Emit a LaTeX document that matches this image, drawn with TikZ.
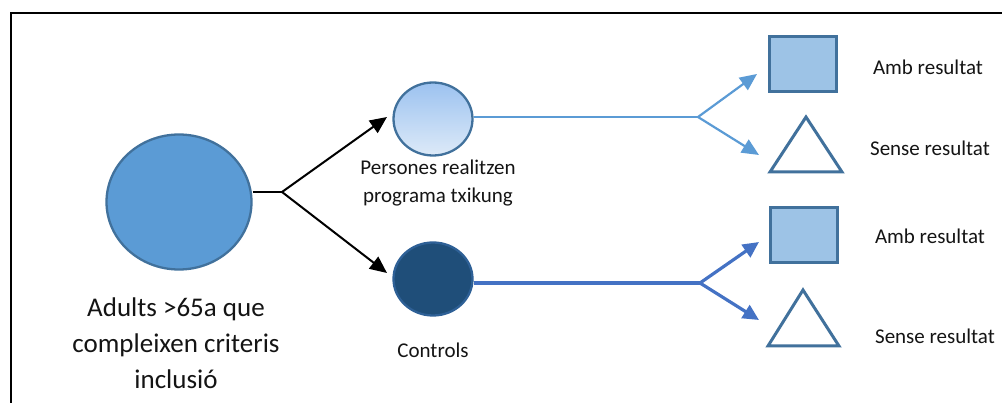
\documentclass[tikz,border=0pt]{standalone}
\usepackage{fontspec}
\setmainfont{Carlito}
\usetikzlibrary{arrows.meta,shapes.geometric}
\definecolor{midblue}{HTML}{5B9BD5}
\definecolor{edgeblue}{HTML}{41719C}
\definecolor{darkblue}{HTML}{1F4E79}
\definecolor{darkedge}{HTML}{2E6096}
\definecolor{paleblue}{HTML}{9DC3E6}
\definecolor{royal}{HTML}{4472C4}
\definecolor{gradtop}{HTML}{9CC2F0}
\definecolor{gradbot}{HTML}{DDEAF8}
\definecolor{txt}{HTML}{141414}
\begin{document}
\begin{tikzpicture}[x=1pt,y=-1pt,
  bubble/.style={ellipse, draw=edgeblue, line width=2.3pt, inner sep=0pt},
  outcome/.style={rectangle, draw=edgeblue, fill=paleblue, line width=3pt,
    inner sep=0pt, minimum width=67pt, minimum height=55pt},
  tri/.style={draw=edgeblue, fill=white, line width=3pt, line join=miter},
  split/.style={-{Triangle[length=17pt,width=15pt]}, line width=2pt, black},
  lightlink/.style={midblue, line width=2.2pt},
  lightsplit/.style={lightlink, -{Triangle[length=17pt,width=15pt]}},
  darklink/.style={royal, line width=3.2pt},
  darksplit/.style={darklink, -{Triangle[length=16pt,width=15pt]}},
  small/.style={text=txt, font=\fontsize{21}{28}\selectfont, align=center, inner sep=0pt},
  big/.style={text=txt, font=\fontsize{27}{36}\selectfont, align=center, inner sep=0pt}]
\useasboundingbox (0,0) rectangle (1002,403);
\clip (0,0) rectangle (1002,403);

% outer frame (open at right and bottom)
\draw[line width=2.2pt] (11,420) -- (11,13) -- (1020,13);

% population and the two groups
\node[bubble, fill=midblue, minimum width=145pt, minimum height=135pt] (pop) at (179,202) {};
\node[bubble, top color=gradtop, bottom color=gradbot, minimum width=79pt, minimum height=73pt] (prog) at (433,119) {};
\node[ellipse, draw=darkedge, line width=2.3pt, fill=darkblue, inner sep=0pt,
      minimum width=79pt, minimum height=73pt] (ctrl) at (433,279) {};

% labels
\node[big] (popL) at (176,343) {Adults >65a que\\compleixen criteris\\inclusió};
\node[small] (progL) at (438,183) {Persones realitzen\\programa txikung};
\node[small] (ctrlL) at (433,350) {Controls};

% split from the population
\coordinate (fork) at (282,192);
\coordinate (tipP) at (387,117);
\coordinate (tipC) at (387,273);
\draw[line width=2pt] (pop.east |- fork) -- (fork);
\draw[split] (fork) -- (tipP);
\draw[split] (fork) -- (tipC);

% outcomes of the programme group
\coordinate (forkP) at (698,117);
\coordinate (tipPA) at (757,74);
\coordinate (tipPB) at (759,155);
\draw[lightlink] (prog.east |- forkP) -- (forkP);
\draw[lightsplit] (forkP) -- (tipPA);
\draw[lightsplit] (forkP) -- (tipPB);
\node[outcome] (sqP) at (803,64) {};
\draw[tri] (806,117) -- (842,172) -- (770,172) -- cycle;
\node[small] (ambP) at (928,67) {Amb resultat};
\node[small] (senP) at (930,148) {Sense resultat};

% outcomes of the control group
\coordinate (forkC) at (700,283);
\coordinate (tipCA) at (759,242);
\coordinate (tipCB) at (759,320);
\draw[darklink] (ctrl.east |- forkC) -- (forkC);
\draw[darksplit] (forkC) -- (tipCA);
\draw[darksplit] (forkC) -- (tipCB);
\node[outcome] (sqC) at (804,235) {};
\draw[tri] (803,290) -- (839,346) -- (768,346) -- cycle;
\node[small] (ambC) at (930,236) {Amb resultat};
\node[small] (senC) at (935,336) {Sense resultat};
\end{tikzpicture}
\end{document}
